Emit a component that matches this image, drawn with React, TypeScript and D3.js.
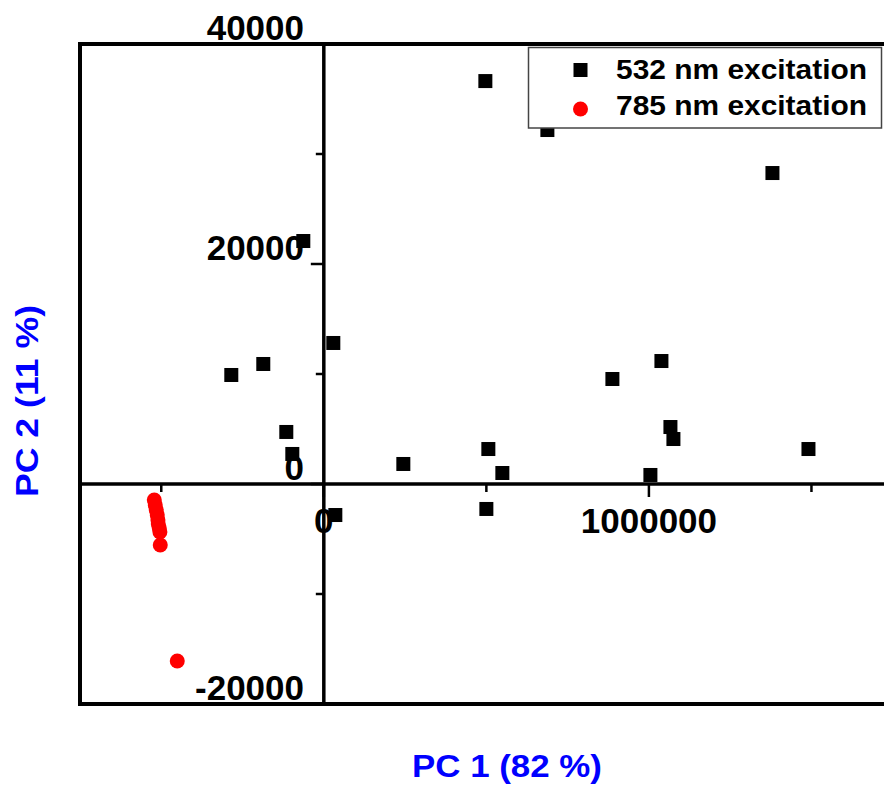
import React from "react";
import * as d3 from "d3";

const seriesNames = ["532 nm excitation", "785 nm excitation"];

// 532 nm excitation scores (PC1, PC2)
const pc1_532 = [496900, 687700, 1380000, -63100, 29200, -284600, -186200, 1038500, 887700, -115400, -96900, 244600, 506100, 549200, 1066200, 1075400, 1004600, 1490800, 35400, 500000];
const pc2_532 = [36630, 32180, 28270, 22090, 12820, 9910, 10910, 11180, 9545, 4730, 2730, 1820, 3180, 1000, 5180, 4090, 820, 3180, -2820, -2270];

// 785 nm excitation scores (PC1, PC2)
const pc1_785 = [-521500, -518500, -515400, -512300, -510300, -509200, -506200, -504200, -503100, -450800];
const pc2_785 = [-1450, -1910, -2360, -2820, -3270, -3640, -4000, -4360, -5550, -16090];

const xMajorTicks = [0, 1000000];
const xMinorTicks = [-500000, 500000, 1500000];
const yMajorTicks = [-20000, 0, 20000, 40000];
const yMinorTicks = [-10000, 10000, 30000];

const xTitle = "PC 1 (82 %)";
const yTitle = "PC 2 (11 %)";

export default function App() {
  const W = 884;
  const H = 786;
  const x = d3.scaleLinear().domain([-750000, 2000000]).range([80, 974]);
  const y = d3.scaleLinear().domain([-20000, 40000]).range([704, 44]);
  const x0 = x(0);
  const y0 = y(0);
  const font = "'Liberation Sans', Arial, sans-serif";

  const blackPts = pc1_532.map((v, i) => ({ x: v, y: pc2_532[i] }));
  const redPts = pc1_785.map((v, i) => ({ x: v, y: pc2_785[i] }));

  return (
    <svg width={W} height={H} style={{ position: "absolute", left: 0, top: 0, background: "#fff" }}>
      {/* frame */}
      <rect x={x(-750000)} y={y(40000)} width={x(2000000) - x(-750000)} height={y(-20000) - y(40000)} fill="none" stroke="#000" strokeWidth={4} />
      {/* zero axes */}
      <line x1={x0} x2={x0} y1={y(40000)} y2={y(-20000)} stroke="#000" strokeWidth={3.5} />
      <line x1={x(-750000)} x2={x(2000000)} y1={y0} y2={y0} stroke="#000" strokeWidth={3.5} />
      {/* x ticks */}
      {xMajorTicks.map((t) => (
        <line key={"xM" + t} x1={x(t)} x2={x(t)} y1={y0} y2={y0 + 13} stroke="#000" strokeWidth={2.5} />
      ))}
      {xMinorTicks.map((t) => (
        <line key={"xm" + t} x1={x(t)} x2={x(t)} y1={y0} y2={y0 + 8} stroke="#000" strokeWidth={2.5} />
      ))}
      {/* y ticks */}
      {yMajorTicks.map((t) => (
        <line key={"yM" + t} x1={x0 - 13} x2={x0} y1={y(t)} y2={y(t)} stroke="#000" strokeWidth={2.5} />
      ))}
      {yMinorTicks.map((t) => (
        <line key={"ym" + t} x1={x0 - 8} x2={x0} y1={y(t)} y2={y(t)} stroke="#000" strokeWidth={2.5} />
      ))}
      {/* tick labels */}
      {xMajorTicks.map((t) => (
        <text key={"xl" + t} x={x(t)} y={533} textAnchor="middle" fontFamily={font} fontWeight="bold" fontSize={35} fill="#000">
          {String(t)}
        </text>
      ))}
      {yMajorTicks.map((t) => (
        <text key={"yl" + t} x={304} y={y(t) - 4} textAnchor="end" fontFamily={font} fontWeight="bold" fontSize={35} fill="#000">
          {String(t)}
        </text>
      ))}
      {/* points */}
      {blackPts.map((p, i) => (
        <rect key={"b" + i} x={x(p.x) - 7} y={y(p.y) - 7} width={14} height={14} fill="#000" />
      ))}
      {redPts.map((p, i) => (
        <circle key={"r" + i} cx={x(p.x)} cy={y(p.y)} r={7.5} fill="#ff0000" />
      ))}
      {/* legend */}
      <rect x={528.5} y={47.5} width={353} height={80.5} fill="#fff" stroke="#444" strokeWidth={1.5} />
      <rect x={573.5} y={63} width={14} height={14} fill="#000" />
      <circle cx={580.5} cy={109} r={7.5} fill="#ff0000" />
      <text x={616} y={78.5} fontFamily={font} fontWeight="bold" fontSize={28} textLength={251} lengthAdjust="spacingAndGlyphs" fill="#000">
        {seriesNames[0]}
      </text>
      <text x={616} y={114.5} fontFamily={font} fontWeight="bold" fontSize={28} textLength={251} lengthAdjust="spacingAndGlyphs" fill="#000">
        {seriesNames[1]}
      </text>
      {/* axis titles */}
      <text x={507} y={777} textAnchor="middle" fontFamily={font} fontWeight="bold" fontSize={31} textLength={190} lengthAdjust="spacingAndGlyphs" fill="#0000ff">
        {xTitle}
      </text>
      <text transform="translate(38,401) rotate(-90)" textAnchor="middle" fontFamily={font} fontWeight="bold" fontSize={31} textLength={192} lengthAdjust="spacingAndGlyphs" fill="#0000ff">
        {yTitle}
      </text>
    </svg>
  );
}
